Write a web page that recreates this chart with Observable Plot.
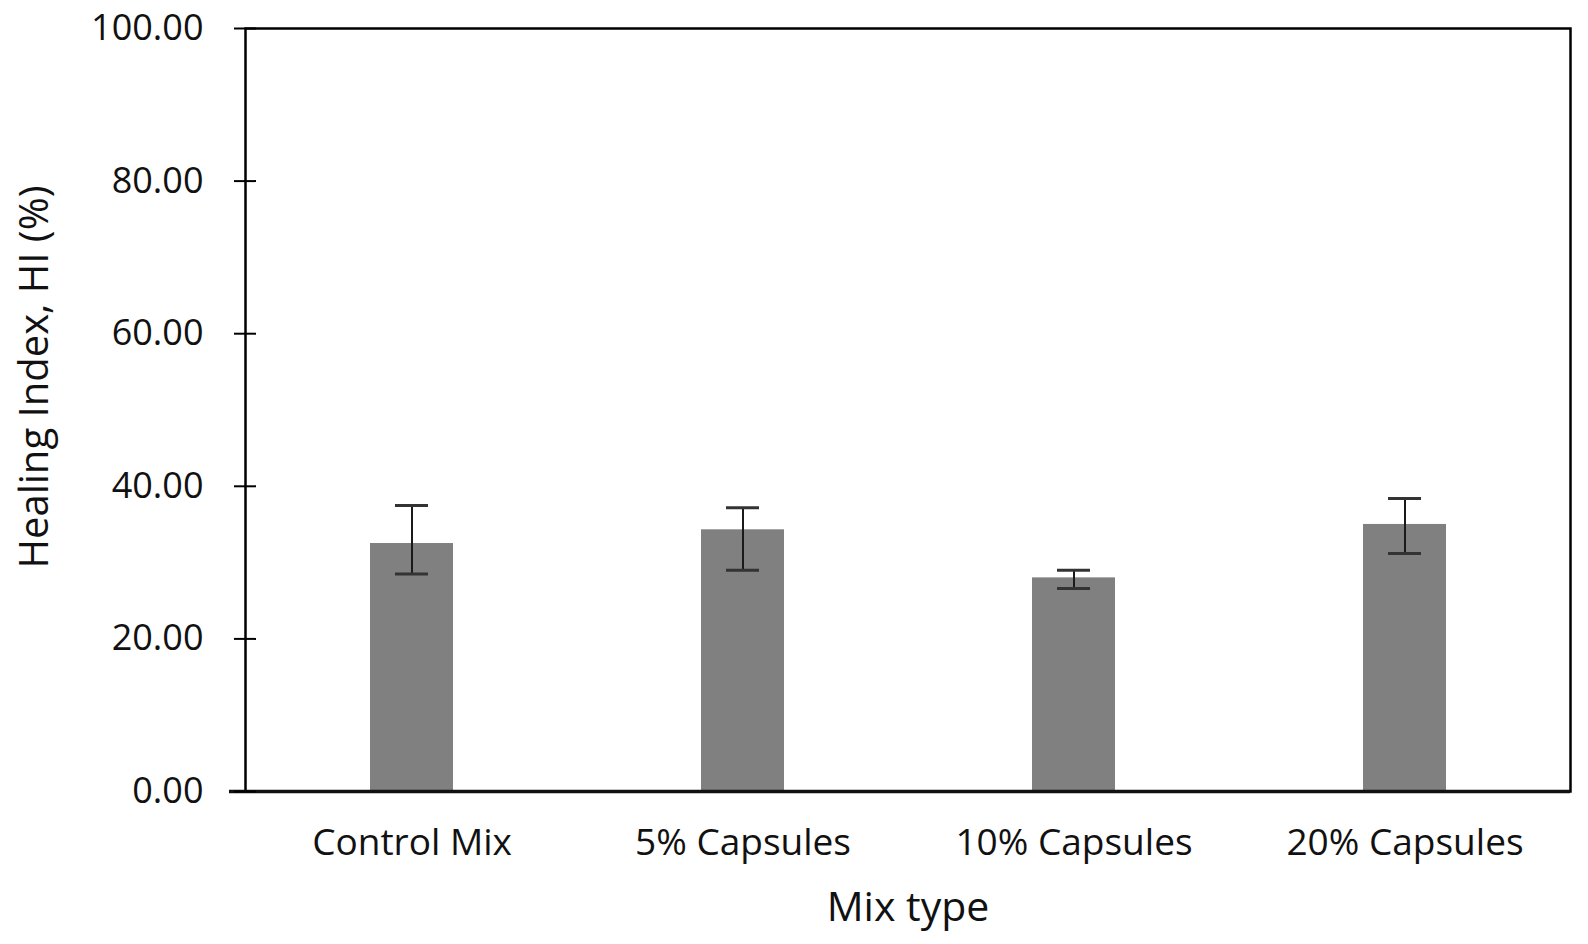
<!DOCTYPE html>
<html>
<head>
<meta charset="utf-8">
<script src="https://cdn.jsdelivr.net/npm/d3@7"></script>
<script src="https://cdn.jsdelivr.net/npm/@observablehq/plot@0.6"></script>
<style>
  html, body { margin: 0; padding: 0; background: #fff; }
  svg { display: block; overflow: visible; }
</style>
</head>
<body>
<div id="chart"></div>
<script>
const categories = ["Control Mix", "5% Capsules", "10% Capsules", "20% Capsules"];
const healingIndex = [32.5, 34.3, 28.0, 35.0];
const errLow = [28.5, 29.0, 26.6, 31.2];
const errHigh = [37.5, 37.2, 29.0, 38.4];
const yTicks = [0, 20, 40, 60, 80, 100];

const data = categories.map((c, i) => ({cat: c, hi: healingIndex[i], lo: errLow[i], up: errHigh[i]}));
const font = "'Open Sans', 'Noto Sans', sans-serif";

const chart = Plot.plot({
  width: 1588,
  height: 944,
  marginLeft: 245,
  marginRight: 18,
  marginTop: 28,
  marginBottom: 153,
  style: {fontFamily: font, color: "#111", background: "#fff"},
  x: {domain: categories, paddingInner: 0.75, paddingOuter: 0.375},
  y: {domain: [0, 100]},
  marks: [
    Plot.barY(data, {x: "cat", y: "hi", fill: "#808080"}),
    Plot.ruleX(data, {x: "cat", y1: "lo", y2: "up", stroke: "#1a1a1a", strokeWidth: 2}),
    Plot.tickY(data, {x: "cat", y: "lo", stroke: "#333", strokeWidth: 3, insetLeft: 25, insetRight: 25}),
    Plot.tickY(data, {x: "cat", y: "up", stroke: "#333", strokeWidth: 3, insetLeft: 25, insetRight: 25}),
    Plot.frame({stroke: "#000", strokeWidth: 2.5}),
    Plot.ruleY([0], {stroke: "#111", strokeWidth: 3.5, insetLeft: -16}),
    Plot.axisY({ticks: yTicks, tickFormat: d3.format(".2f"), tickSize: 22, dx: 11, tickPadding: 31,
      fontSize: 36, stroke: "#000", strokeWidth: 2, label: null}),
    Plot.axisX({tickSize: 0, tickPadding: 37, fontSize: 37, label: null}),
    Plot.text(["Healing Index, HI (%)"], {frameAnchor: "left", rotate: -90, dx: -210, dy: -33,
      fontSize: 40, fill: "#111", textAnchor: "middle", lineAnchor: "middle"}),
    Plot.text(["Mix type"], {frameAnchor: "bottom", dy: 116, fontSize: 41, fill: "#111",
      textAnchor: "middle", lineAnchor: "middle"})
  ]
});
document.getElementById("chart").append(chart);
</script>
</body>
</html>
